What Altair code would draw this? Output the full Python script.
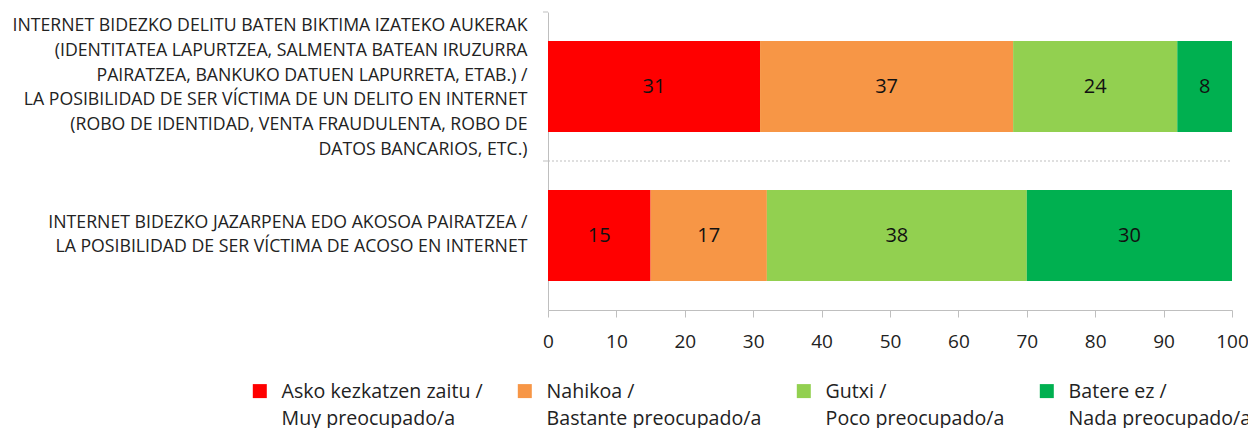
import altair as alt
import pandas as pd

categories = ["c1", "c2"]
category_labels = {
    "c1": ["INTERNET BIDEZKO DELITU BATEN BIKTIMA IZATEKO AUKERAK",
           "(IDENTITATEA LAPURTZEA, SALMENTA BATEAN IRUZURRA",
           "PAIRATZEA, BANKUKO DATUEN LAPURRETA, ETAB.) /",
           "LA POSIBILIDAD DE SER VÍCTIMA DE UN DELITO EN INTERNET",
           "(ROBO DE IDENTIDAD, VENTA FRAUDULENTA, ROBO DE",
           "DATOS BANCARIOS, ETC.)"],
    "c2": ["INTERNET BIDEZKO JAZARPENA EDO AKOSOA PAIRATZEA /",
           "LA POSIBILIDAD DE SER VÍCTIMA DE ACOSO EN INTERNET"],
}
series = ["Asko kezkatzen zaitu /|Muy preocupado/a",
          "Nahikoa /|Bastante preocupado/a",
          "Gutxi /|Poco preocupado/a",
          "Batere ez /|Nada preocupado/a"]
colors = ["#FF0000", "#F79646", "#92D050", "#00B050"]
asko = [31, 15]
nahikoa = [37, 17]
gutxi = [24, 38]
batere = [8, 30]
x_ticks = [0, 10, 20, 30, 40, 50, 60, 70, 80, 90, 100]

rows = []
for s_i, vals in enumerate([asko, nahikoa, gutxi, batere]):
    for c_i, c in enumerate(categories):
        rows.append({"cat": c, "series": series[s_i], "order": s_i, "value": vals[c_i]})
df = pd.DataFrame(rows)

font = "Open Sans"
LABEL_DY = 7  # vertical nudge applied to guide labels (legend alignment)
Y_LINE_H = 24.7

parts = []
for c in categories:
    arr = "[" + ",".join("'" + l + "'" for l in category_labels[c]) + "]"
    parts.append((c, arr))
label_expr = "datum.label == '%s' ? %s : %s" % (parts[0][0], parts[0][1], parts[1][1])

# centre each multi-line block on its band
off_c1 = -LABEL_DY - (len(category_labels["c1"]) - 1) * Y_LINE_H / 2 + 1.5
off_c2 = -LABEL_DY - (len(category_labels["c2"]) - 1) * Y_LINE_H / 2 - 0.5

y_scale = alt.Scale(domain=categories, paddingInner=0, paddingOuter=0)

base = alt.Chart(df).transform_stack(
    stack="value", groupby=["cat"], as_=["x0", "x1"],
    sort=[alt.SortField("order", order="ascending")]
).transform_calculate(mid="(datum.x0 + datum.x1) / 2")

x_scale = alt.Scale(domain=[0, 100], nice=False)

bars = base.mark_bar(size=91).encode(
    x=alt.X("x0:Q", title=None, scale=x_scale,
            axis=alt.Axis(values=x_ticks, grid=False, tickSize=7, tickColor="#BFBFBF",
                          domainColor="#BFBFBF", labelFont=font, labelFontSize=19,
                          labelColor="#222222", labelPadding=8.5, labelFlush=False)),
    x2="x1:Q",
    y=alt.Y("cat:N", title=None, scale=y_scale,
            axis=alt.Axis(labelExpr=label_expr, labelAlign="right",
                          labelFont=font, labelFontSize=17.7, labelColor="#222222",
                          labelLineHeight=Y_LINE_H, labelPadding=21, labelLimit=700,
                          labelOffset={"condition": {"test": "datum.value === 'c1'", "value": off_c1},
                                       "value": off_c2},
                          ticks=False, domainColor="#BFBFBF", grid=False)),
    color=alt.Color("series:N", scale=alt.Scale(domain=series, range=colors),
                    legend=alt.Legend(title=None, orient="none", legendX=-298, legendY=369,
                                      direction="horizontal", columns=4, columnPadding=32,
                                      symbolType="square", symbolSize=196, symbolStrokeWidth=0,
                                      labelExpr="split(datum.label, '|')", labelFont=font,
                                      labelFontSize=19.6, labelColor="#222222", labelLimit=600,
                                      labelOffset=12, labelBaseline="alphabetic", padding=0)),
)

texts = base.mark_text(font=font, fontSize=20, color="#111111").encode(
    x="mid:Q",
    y=alt.Y("cat:N", scale=y_scale),
    text="value:Q",
)

# dotted separator between the two categories (band boundary)
sep_df = pd.DataFrame({"cat": [categories[1]]})
separator = alt.Chart(sep_df).mark_rule(color="#BFBFBF", strokeDash=[2, 2], strokeWidth=1).encode(
    y=alt.Y("cat:N", scale=y_scale, bandPosition=0),
    x=alt.datum(0),
    x2=alt.datum(100),
)

# category-boundary ticks on the y axis
tick_df = pd.DataFrame({"cat": categories})
yticks = alt.Chart(tick_df).mark_rule(color="#BFBFBF", strokeWidth=1).encode(
    y=alt.Y("cat:N", scale=y_scale, bandPosition=0),
    x=alt.value(-5),
    x2=alt.value(0),
)

chart = alt.layer(separator, bars, texts, yticks).properties(
    width=684, height=298,
    autosize="none",
    padding={"left": 540, "top": 4, "right": 16, "bottom": 118},
).configure(style={"guide-label": {"lineHeight": 27, "dy": LABEL_DY}}).configure_view(stroke=None)

chart.save("out.html", embed_options={"renderer": "svg", "actions": False})
